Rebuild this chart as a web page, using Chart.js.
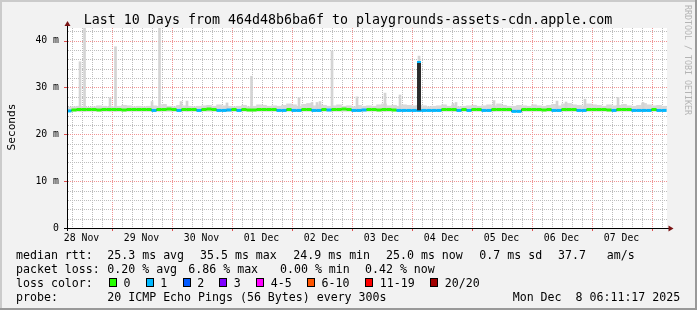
<!DOCTYPE html>
<html>
<head>
<meta charset="utf-8">
<script src="https://cdn.jsdelivr.net/npm/chart.js"></script>
<style>
  html, body { margin: 0; padding: 0; background: #f2f2f2; }
  canvas { display: block; }
</style>
</head>
<body>
<canvas id="chart" width="697" height="310"></canvas>
<script>
// time axis in hours counted from 28 Nov 00:00 (graph ends Mon Dec 8 06:11:17)
const startHour = 6.19;
const endHour = 246.19;
const firstSample = 7;
const sampleStep = 2;

const dayLabels = ['28 Nov', '29 Nov', '30 Nov', '01 Dec', '02 Dec', '03 Dec', '04 Dec', '05 Dec', '06 Dec', '07 Dec'];

// median rtt in ms, one value per 2 hours
const medianValues = [
  25.0, 25.2, 25.3, 25.3, 25.3, 25.3, 25.2, 25.3, 25.3, 25.3,
  25.3, 25.2, 25.3, 25.3, 25.3, 25.3, 25.3, 25.1, 25.3, 25.3,
  25.4, 25.3, 25.1, 25.3, 25.3, 25.3, 25.1, 25.3, 25.4, 25.3,
  25.1, 25.1, 25.2, 25.3, 25.1, 25.3, 25.2, 25.2, 25.3, 25.3,
  25.3, 25.3, 25.1, 25.1, 25.3, 25.1, 25.1, 25.3, 25.3, 25.1,
  25.1, 25.3, 25.2, 25.3, 25.3, 25.4, 25.3, 25.1, 25.1, 25.2,
  25.3, 25.3, 25.2, 25.3, 25.3, 25.2, 25.1, 25.1, 25.1, 25.1,
  25.1, 25.1, 25.1, 25.1, 25.1, 25.3, 25.3, 25.3, 25.1, 25.3,
  25.1, 25.3, 25.3, 25.1, 25.1, 25.3, 25.3, 25.3, 25.3, 24.9,
  24.9, 25.3, 25.3, 25.3, 25.3, 25.2, 25.3, 25.1, 25.1, 25.3,
  25.3, 25.3, 25.1, 25.1, 25.3, 25.3, 25.3, 25.3, 25.2, 25.1,
  25.3, 25.3, 25.3, 25.1, 25.1, 25.1, 25.1, 25.3, 25.1, 25.1
];

// lost pings (of 20) for each median sample
const lossValues = [
  1, 0, 0, 0, 0, 0, 0, 0, 0, 0,
  0, 0, 0, 0, 0, 0, 0, 1, 0, 0,
  0, 0, 1, 0, 0, 0, 1, 0, 0, 0,
  1, 1, 1, 0, 1, 0, 0, 0, 0, 0,
  0, 0, 1, 1, 0, 1, 1, 0, 0, 1,
  1, 0, 1, 0, 0, 0, 0, 1, 1, 1,
  0, 0, 0, 0, 0, 0, 1, 1, 1, 1,
  1, 1, 1, 1, 1, 0, 0, 0, 1, 0,
  1, 0, 0, 1, 1, 0, 0, 0, 0, 1,
  1, 0, 0, 0, 0, 0, 0, 1, 1, 0,
  0, 0, 1, 1, 0, 0, 0, 0, 0, 1,
  0, 0, 0, 1, 1, 1, 1, 0, 1, 1
];

// top of the ping smoke for each sample (ms)
const smokeBottom = 24.9;
const smokeTop = [
  25.8, 25.9, 26.0, 25.9, 25.8, 25.9, 26.1, 26.0, 25.9, 25.9,
  26.0, 26.2, 26.1, 25.9, 26.0, 25.9, 26.0, 26.1, 26.0, 26.4,
  26.0, 25.9, 26.2, 26.1, 26.0, 25.9, 26.0, 26.1, 26.2, 26.0,
  26.3, 26.1, 26.0, 25.9, 26.0, 26.2, 25.9, 26.0, 26.3, 26.2,
  26.0, 26.1, 26.0, 26.2, 26.5, 26.3, 26.0, 26.4, 26.6, 26.1,
  26.3, 26.2, 26.0, 26.1, 26.3, 26.0, 26.1, 25.9, 26.2, 26.0,
  26.1, 26.0, 26.3, 26.5, 26.1, 26.2, 26.0, 26.3, 26.2, 26.1,
  26.2, 26.1, 25.9, 26.0, 26.1, 26.3, 26.0, 26.2, 25.9, 26.0,
  26.1, 26.2, 26.0, 26.1, 26.3, 26.1, 26.5, 26.2, 26.0, 26.0,
  26.2, 26.1, 26.0, 26.3, 26.1, 26.0, 26.2, 26.4, 26.1, 26.5,
  26.6, 26.3, 26.2, 26.1, 26.5, 26.3, 26.2, 26.0, 26.3, 26.1,
  26.2, 26.4, 26.1, 26.0, 26.2, 26.6, 26.3, 26.1, 26.2, 26.0
];

// single slow pings sticking out of the smoke
const spikeHours = [11.4, 13.2, 23.4, 25.6, 40.2, 43.2, 51.8, 54.2, 70.2, 80.0, 99.0, 104.2, 106.2, 107.4,
  112.2, 122.2, 133.4, 139.4, 147.0, 160.6, 161.8, 177.0, 202.2, 205.8, 213.4, 226.6, 236.6];
const spikeTops = [35.5, 43.5, 27.8, 38.7, 27.0, 43.5, 27.0, 27.1, 26.7, 32.4, 27.8, 26.8, 26.8, 27.0,
  37.8, 28.0, 28.8, 28.4, 36.7, 26.6, 26.8, 27.2, 27.1, 26.9, 27.5, 27.9, 26.8];

// the one median jump to 35.5 ms
const medianSpikeHour = 147.0;
const medianSpikeValue = 35.6;

const yTicks = [0, 2, 4, 6, 8, 10, 12, 14, 16, 18, 20, 22, 24, 26, 28, 30, 32, 34, 36, 38, 40, 42];

const lossBins = ['0', '1', '2', '3', '4-5', '6-10', '11-19', '20/20'];
const lossColors = ['#26ff00', '#00b8ff', '#0059ff', '#7e00ff', '#ff00ff', '#ff5500', '#ff0000', '#a10000'];

const medianStats = ['25.3 ms avg', '35.5 ms max', '24.9 ms min', '25.0 ms now', '0.7 ms sd', '37.7   am/s'];
const lossStats = ['0.20 % avg', '6.86 % max', '0.00 % min', '0.42 % now'];
const probeText = '20 ICMP Echo Pings (56 Bytes) every 300s';
const stampText = 'Mon Dec  8 06:11:17 2025';
const titleText = 'Last 10 Days from 464d48b6ba6f to playgrounds-assets-cdn.apple.com';

const hours = medianValues.map((v, i) => firstSample + i * sampleStep);

const MONO = 'DejaVu Sans Mono';
Chart.defaults.font.family = MONO;
Chart.defaults.color = '#000';

const minorGrid = '#bdbdbd';
const majorGrid = '#f09494';

// dotted rrdtool style grid, drawn under the data
const dottedGrid = {
  id: 'dottedGrid',
  beforeDatasetsDraw(chart) {
    const c = chart.ctx, a = chart.chartArea;
    const xs = chart.scales.x, ys = chart.scales.y;
    c.save();
    xs.ticks.forEach(t => {
      const px = Math.round(xs.getPixelForValue(t.value));
      const major = t.value % 24 === 0;
      c.fillStyle = major ? majorGrid : minorGrid;
      for (let y = Math.ceil(a.top); y < a.bottom; y += 2) c.fillRect(px, y, 1, 1);
      if (major) {
        c.fillStyle = '#de5050';
        c.fillRect(px, a.bottom, 1, 3);
      }
    });
    ys.ticks.forEach(t => {
      const py = Math.round(ys.getPixelForValue(t.value));
      const major = t.value % 10 === 0;
      c.fillStyle = major ? majorGrid : minorGrid;
      for (let x = Math.ceil(a.left) + 1; x < a.right; x += 2) c.fillRect(x, py, 1, 1);
      if (major) {
        c.fillStyle = '#de5050';
        c.fillRect(a.left - 3, py, 3, 1);
      }
    });
    c.restore();
  }
};

const frame = {
  id: 'frame',
  beforeDraw(chart) {
    const c = chart.ctx, a = chart.chartArea;
    c.save();
    c.fillStyle = '#f2f2f2';
    c.fillRect(0, 0, 697, 310);
    c.fillStyle = '#cbcbcb';
    c.fillRect(0, 0, 697, 2);
    c.fillRect(0, 0, 2, 310);
    c.fillStyle = '#999999';
    c.fillRect(0, 308, 697, 2);
    c.fillRect(695, 0, 2, 310);
    c.fillStyle = '#ffffff';
    c.fillRect(a.left, a.top, a.right - a.left, a.bottom - a.top);
    c.restore();
  },
  afterDraw(chart) {
    const c = chart.ctx, a = chart.chartArea;
    c.save();
    // axes
    c.strokeStyle = '#000';
    c.lineWidth = 1;
    c.beginPath();
    c.moveTo(a.left + 0.5, a.bottom + 3);
    c.lineTo(a.left + 0.5, 24);
    c.moveTo(a.left - 3, a.bottom + 0.5);
    c.lineTo(670, a.bottom + 0.5);
    c.stroke();
    c.fillStyle = '#7a1414';
    c.beginPath();
    c.moveTo(a.left + 0.5, 21);
    c.lineTo(a.left - 2.5, 26);
    c.lineTo(a.left + 3.5, 26);
    c.closePath();
    c.fill();
    c.beginPath();
    c.moveTo(673.5, a.bottom + 0.5);
    c.lineTo(668.5, a.bottom - 2.5);
    c.lineTo(668.5, a.bottom + 3.5);
    c.closePath();
    c.fill();

    // title
    c.fillStyle = '#000';
    c.font = '13.3px ' + MONO;
    c.textAlign = 'center';
    c.textBaseline = 'alphabetic';
    c.fillText(titleText, 348, 24);

    // vertical unit label
    c.save();
    c.font = '11.2px ' + MONO;
    c.translate(15, 127);
    c.rotate(-Math.PI / 2);
    c.fillText('Seconds', 0, 0);
    c.restore();

    // watermark
    c.save();
    c.font = '8.3px ' + MONO;
    c.fillStyle = '#b4b4b4';
    c.textAlign = 'left';
    c.translate(685, 5);
    c.rotate(Math.PI / 2);
    c.fillText('RRDTOOL / TOBI OETIKER', 0, 0);
    c.restore();

    // legend block
    c.font = '11.6px ' + MONO;
    c.textAlign = 'left';
    const rows = [258.5, 272.5, 286.5, 300.5];
    c.fillText('median rtt:', 16, rows[0]);
    [107.3, 200, 293.3, 386, 479.3, 558].forEach((x, i) => c.fillText(medianStats[i], x, rows[0]));
    c.fillText('packet loss:', 16, rows[1]);
    [107.3, 188.3, 280, 365].forEach((x, i) => c.fillText(lossStats[i], x, rows[1]));
    c.fillText('loss color:', 16, rows[2]);
    [109, 145.7, 182.7, 219.3, 256.3, 307, 365.3, 430.3].forEach((x, i) => {
      const bx = Math.round(x);
      c.fillStyle = lossColors[i];
      c.fillRect(bx, 278, 8, 9);
      c.strokeStyle = '#000';
      c.strokeRect(bx + 0.5, 278.5, 7, 8);
      c.fillStyle = '#000';
      c.fillText(lossBins[i], x + 14.5, rows[2]);
    });
    c.fillText('probe:', 16, rows[3]);
    c.fillText(probeText, 107.3, rows[3]);
    c.fillText(stampText, 512.7, rows[3]);
    c.restore();
  }
};

new Chart(document.getElementById('chart'), {
  type: 'line',
  data: {
    datasets: [
      {
        type: 'bar',
        data: hours.map((h, i) => ({ x: h, y: [smokeBottom, smokeTop[i]] })),
        backgroundColor: '#d9d9d9',
        barThickness: 5,
        grouped: false,
        order: 5
      },
      {
        type: 'bar',
        data: spikeHours.map((h, i) => ({ x: h, y: [smokeBottom, spikeTops[i]] })),
        backgroundColor: '#d4d4d4',
        barThickness: 2,
        grouped: false,
        order: 4
      },
      {
        type: 'line',
        data: hours.map((h, i) => ({ x: h, y: medianValues[i] })),
        borderColor: '#202020',
        borderWidth: 1,
        stepped: 'middle',
        pointRadius: 0,
        order: 3
      },
      {
        type: 'line',
        data: hours.map((h, i) => ({ x: h, y: medianValues[i] })),
        showLine: false,
        pointStyle: 'line',
        pointRadius: 2.5,
        pointBorderWidth: 3,
        pointBorderColor: lossValues.map(l => lossColors[l]),
        order: 2
      },
      {
        type: 'bar',
        data: [{ x: medianSpikeHour, y: [25.1, medianSpikeValue] }],
        backgroundColor: '#2b2b2b',
        borderColor: lossColors[1],
        borderWidth: { top: 2, left: 0, right: 0, bottom: 0 },
        borderSkipped: false,
        barThickness: 4,
        grouped: false,
        order: 1
      }
    ]
  },
  options: {
    responsive: false,
    devicePixelRatio: 1,
    animation: false,
    events: [],
    layout: { padding: { left: 0, top: 28, right: 30, bottom: 0 } },
    plugins: { legend: { display: false }, tooltip: { enabled: false }, title: { display: false } },
    scales: {
      x: {
        type: 'linear',
        min: startHour,
        max: endHour,
        offset: false,
        afterFit: s => { s.height = 82; },
        afterBuildTicks: s => {
          const t = [];
          for (let h = 8; h < endHour; h += 4) t.push({ value: h });
          s.ticks = t;
        },
        grid: { display: false, offset: false, tickLength: 3 },
        border: { display: false },
        ticks: {
          autoSkip: false,
          maxRotation: 0,
          minRotation: 0,
          padding: 2,
          font: { size: 9.8, family: MONO },
          color: '#000',
          callback: v => ((v - 12) % 24 === 0 ? dayLabels[(v - 12) / 24] : '')
        }
      },
      y: {
        min: 0,
        max: 42.7,
        afterFit: s => { s.width = 67; },
        afterBuildTicks: s => { s.ticks = yTicks.map(v => ({ value: v })); },
        grid: { display: false, tickLength: 3 },
        border: { display: false },
        ticks: {
          autoSkip: false,
          padding: 5,
          font: { size: 9.8, family: MONO },
          color: '#000',
          callback: v => (v % 10 === 0 ? (v === 0 ? '0' : v + ' m') : '')
        }
      }
    }
  },
  plugins: [dottedGrid, frame]
});
</script>
</body>
</html>
